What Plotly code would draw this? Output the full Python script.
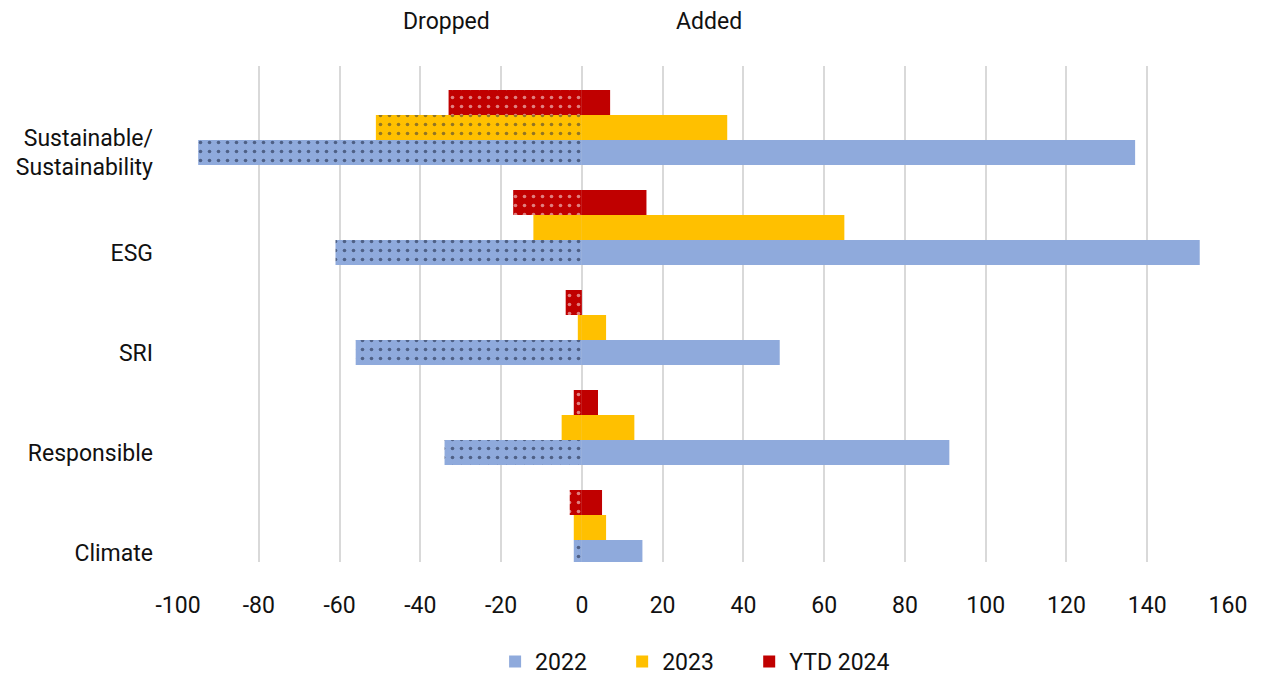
import plotly.graph_objects as go

# categories listed bottom-up (plotly draws the first category at the bottom)
categorias = ["Climate", "Responsible", "SRI", "ESG", "Sustainable/<br>Sustainability"]

# dropped (negative) and added (positive) counts per series
drop_2022 = [-2, -34, -56, -61, -95]
add_2022 = [15, 91, 49, 153, 137]
drop_2023 = [-2, -5, -1, -12, -51]
add_2023 = [6, 13, 6, 65, 36]
drop_2024 = [-3, -2, -4, -17, -33]
add_2024 = [5, 4, 0, 16, 7]

series = ["2022", "2023", "YTD 2024"]
x_ticks = [-100, -80, -60, -40, -20, 0, 20, 40, 60, 80, 100, 120, 140, 160]
x_labels = [str(v) for v in x_ticks]

FONT = "Roboto, Liberation Sans, sans-serif"
TXT = "#111111"

estilos = {
    "2022": dict(color="#8FAADC", dot="#0E1530", offset=-0.125, leyenda="legend",
                 patron=[".", ".", ".", ".", "."]),
    "2023": dict(color="#FFC000", dot="#252B45", offset=0.125, leyenda="legend2",
                 patron=["", "", "", "", "."]),
    "YTD 2024": dict(color="#C00000", dot="#FFFFFF", offset=0.375, leyenda="legend3",
                     patron=[".", ".", ".", ".", "."]),
}

datos = {
    "2022": (drop_2022, add_2022),
    "2023": (drop_2023, add_2023),
    "YTD 2024": (drop_2024, add_2024),
}

fig = go.Figure()

for nombre in series:
    est = estilos[nombre]
    caidas, altas = datos[nombre]

    # Barras negativas (con patrón de puntos)
    fig.add_trace(
        go.Bar(
            y=categorias,
            x=caidas,
            orientation="h",
            name=nombre,
            legendgroup=nombre,
            showlegend=False,
            width=0.25,
            offset=est["offset"],
            marker=dict(
                color=est["color"],
                line=dict(width=0),
                pattern=dict(shape=est["patron"], fgcolor=est["dot"],
                             bgcolor=est["color"], size=9, solidity=0.13,
                             fillmode="overlay"),
            ),
        )
    )

    # Barras positivas (sólidas)
    fig.add_trace(
        go.Bar(
            y=categorias,
            x=altas,
            orientation="h",
            name=nombre,
            legendgroup=nombre,
            legend=est["leyenda"],
            showlegend=True,
            width=0.25,
            offset=est["offset"],
            marker=dict(color=est["color"], line=dict(width=0)),
        )
    )

fig.add_annotation(text="Dropped", x=-33.5, y=1.089, xref="x", yref="paper",
                   yanchor="middle", showarrow=False,
                   font=dict(size=23, color=TXT, family=FONT))
fig.add_annotation(text="Added", x=31.5, y=1.089, xref="x", yref="paper",
                   yanchor="middle", showarrow=False,
                   font=dict(size=23, color=TXT, family=FONT))

fig.update_xaxes(
    range=[-100, 160],
    tickvals=x_ticks,
    ticktext=x_labels,
    showgrid=True,
    gridcolor="#D9D9D9",
    gridwidth=2,
    zeroline=False,
    showline=False,
    ticklabelstandoff=27,
    tickfont=dict(size=23, color=TXT, family=FONT),
)
fig.update_yaxes(
    range=[-0.095, 4.865],
    showgrid=False,
    zeroline=False,
    showline=False,
    ticklabelstandoff=24,
    tickfont=dict(size=23, color=TXT, family=FONT),
)

# una leyenda por serie para poder fijar la posición de cada entrada
ley = dict(orientation="h", xanchor="left", y=0.026, yref="container",
           yanchor="middle", font=dict(size=23, family=FONT))

# la página añade 8 px de margen al body, por eso la figura es 8 px más pequeña
fig.update_layout(
    barmode="overlay",
    width=1254,
    height=671,
    margin=dict(l=170, r=34, t=58, b=117, autoexpand=False),
    plot_bgcolor="white",
    paper_bgcolor="white",
    font=dict(family=FONT, size=23, color=TXT),
    legend=dict(ley, x=0.302),
    legend2=dict(ley, x=0.423),
    legend3=dict(ley, x=0.544),
)

fig.write_html("out.html")
